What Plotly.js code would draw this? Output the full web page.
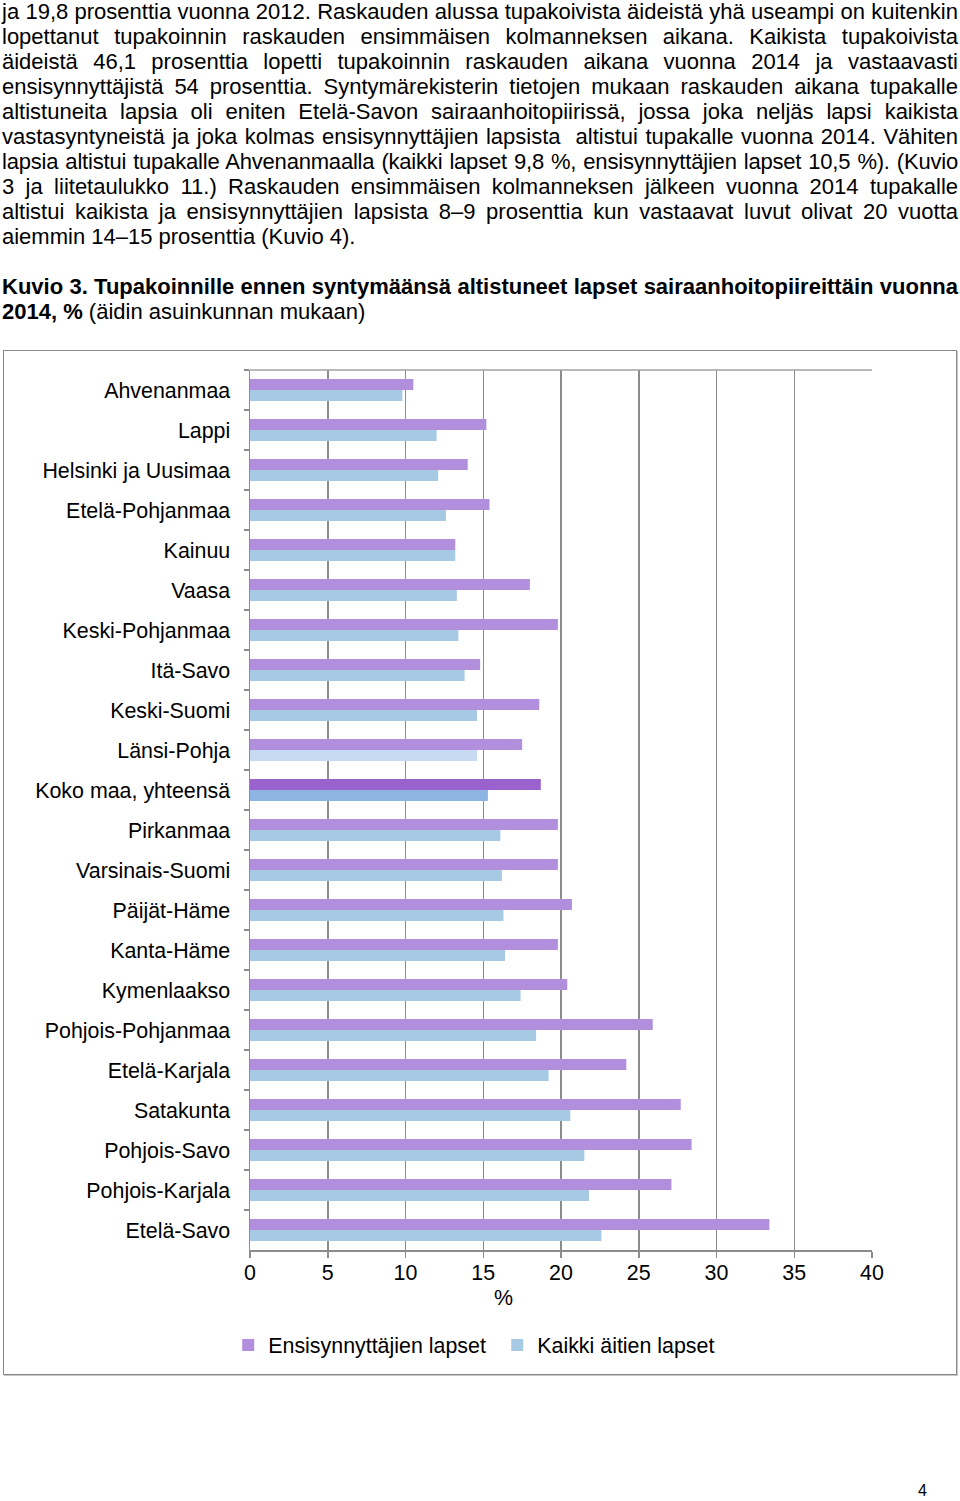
<!DOCTYPE html>
<html><head><meta charset="utf-8">
<script src="https://cdn.plot.ly/plotly-3.0.1.min.js"></script>
<style>
body{margin:0;background:#fff;width:960px;height:1501px;position:relative;overflow:hidden;font-family:"Liberation Sans",Arial,Helvetica,sans-serif;color:#000}
.l{position:absolute;left:2px;width:956px;font-size:22px;line-height:25px;text-align:justify;text-align-last:justify;white-space:nowrap}
.last{text-align-last:left}
b{font-weight:bold}
#box{position:absolute;left:3px;top:350px;width:952px;height:1023px;border:1px solid #8a8a8a;box-shadow:1px 1px 0 #c8c8c8}
#chart{position:absolute;left:0;top:340px;width:960px;height:1060px}
#pg{position:absolute;left:918px;top:1482px;font-size:16px}
</style>
</head><body>
<div class="l" style="top:-1px">ja 19,8 prosenttia vuonna 2012. Raskauden alussa tupakoivista äideistä yhä useampi on kuitenkin</div>
<div class="l" style="top:24px">lopettanut tupakoinnin raskauden ensimmäisen kolmanneksen aikana. Kaikista tupakoivista</div>
<div class="l" style="top:49px">äideistä 46,1 prosenttia lopetti tupakoinnin raskauden aikana vuonna 2014 ja vastaavasti</div>
<div class="l" style="top:74px">ensisynnyttäjistä 54 prosenttia. Syntymärekisterin tietojen mukaan raskauden aikana tupakalle</div>
<div class="l" style="top:99px">altistuneita lapsia oli eniten Etelä-Savon sairaanhoitopiirissä, jossa joka neljäs lapsi kaikista</div>
<div class="l" style="top:124px">vastasyntyneistä ja joka kolmas ensisynnyttäjien lapsista&nbsp; altistui tupakalle vuonna 2014. Vähiten</div>
<div class="l" style="top:149px;letter-spacing:-0.2px;word-spacing:-1px">lapsia altistui tupakalle Ahvenanmaalla (kaikki lapset 9,8 %, ensisynnyttäjien lapset 10,5 %). (Kuvio</div>
<div class="l" style="top:174px">3 ja liitetaulukko 11.) Raskauden ensimmäisen kolmanneksen jälkeen vuonna 2014 tupakalle</div>
<div class="l" style="top:199px">altistui kaikista ja ensisynnyttäjien lapsista 8–9 prosenttia kun vastaavat luvut olivat 20 vuotta</div>
<div class="l last" style="top:224px">aiemmin 14–15 prosenttia (Kuvio 4).</div>
<div class="l" style="top:274px;font-weight:bold">Kuvio 3. Tupakoinnille ennen syntymäänsä altistuneet lapset sairaanhoitopiireittäin vuonna</div>
<div class="l last" style="top:299px"><b>2014, %</b> (äidin asuinkunnan mukaan)</div>
<div id="box"></div>
<div id="chart"></div>
<div id="pg">4</div>
<script>
const regions = ["Ahvenanmaa","Lappi","Helsinki ja Uusimaa","Etelä-Pohjanmaa","Kainuu","Vaasa","Keski-Pohjanmaa","Itä-Savo","Keski-Suomi","Länsi-Pohja","Koko maa, yhteensä","Pirkanmaa","Varsinais-Suomi","Päijät-Häme","Kanta-Häme","Kymenlaakso","Pohjois-Pohjanmaa","Etelä-Karjala","Satakunta","Pohjois-Savo","Pohjois-Karjala","Etelä-Savo"];
const firstBorn = [10.5,15.2,14.0,15.4,13.2,18.0,19.8,14.8,18.6,17.5,18.7,19.8,19.8,20.7,19.8,20.4,25.9,24.2,27.7,28.4,27.1,33.4];
const allMothers = [9.8,12.0,12.1,12.6,13.2,13.3,13.4,13.8,14.6,14.6,15.3,16.1,16.2,16.3,16.4,17.4,18.4,19.2,20.6,21.5,21.8,22.6];
const seriesNames = ["Ensisynnyttäjien lapset","Kaikki äitien lapset"];
const xTicks = [0,5,10,15,20,25,30,35,40];

const purple = "#b18fdc", purpleDark = "#9a62cc";
const blue = "#a7cae4", blueDark = "#8db4e2", blueLight = "#c6daf1";
const pCol = regions.map(r => r === "Koko maa, yhteensä" ? purpleDark : purple);
const bCol = regions.map(r => r === "Koko maa, yhteensä" ? blueDark : (r === "Länsi-Pohja" ? blueLight : blue));

const traces = [
  {type:"bar", orientation:"h", name:seriesNames[0], y:regions, x:firstBorn, marker:{color:pCol}, hoverinfo:"x+y"},
  {type:"bar", orientation:"h", name:seriesNames[1], y:regions, x:allMothers, marker:{color:bCol}, hoverinfo:"x+y"}
];
const grid = "#8c8c8c";
const fs = 21.4;
const layout = {
  width:960, height:1060,
  margin:{l:250, r:88, t:30, b:150, pad:0},
  paper_bgcolor:"rgba(0,0,0,0)", plot_bgcolor:"rgba(0,0,0,0)",
  barmode:"group", bargap:0.45, bargroupgap:0,
  font:{family:"Liberation Sans, Arial, Helvetica, sans-serif", size:fs, color:"#000"},
  xaxis:{range:[0,40], tickvals:xTicks, ticktext:xTicks.map(String), showgrid:true, gridcolor:grid, gridwidth:1.5,
         zeroline:false, showline:true, linecolor:grid, linewidth:1.5, ticks:"outside", ticklen:6,
         tickcolor:grid, tickwidth:1.5, tickfont:{size:fs}, ticklabelstandoff:-3, fixedrange:true},
  yaxis:{type:"category", categoryorder:"array", categoryarray:regions, autorange:"reversed",
         showline:true, linecolor:grid, linewidth:1.5, ticks:"outside", tickson:"boundaries", ticklen:5,
         tickcolor:grid, tickwidth:1.5, ticklabelstandoff:14, showgrid:false, tickfont:{size:fs}, fixedrange:true},
  showlegend:true,
  legend:{orientation:"h", x:-0.035, y:-0.108, xanchor:"left", yanchor:"middle", font:{size:fs},
          entrywidth:224, entrywidthmode:"pixels", bgcolor:"rgba(0,0,0,0)"},
  annotations:[{text:"%", xref:"paper", yref:"paper", x:(503-250)/622, y:-0.0545, xanchor:"center", yanchor:"middle",
                showarrow:false, font:{size:fs}}],
  shapes:[{type:"line", xref:"paper", yref:"paper", x0:0, x1:1, y0:1, y1:1, line:{color:"#a0a0a0", width:1.5}}]
};
Plotly.newPlot("chart", traces, layout, {displayModeBar:false, staticPlot:true});
</script>
</body></html>
